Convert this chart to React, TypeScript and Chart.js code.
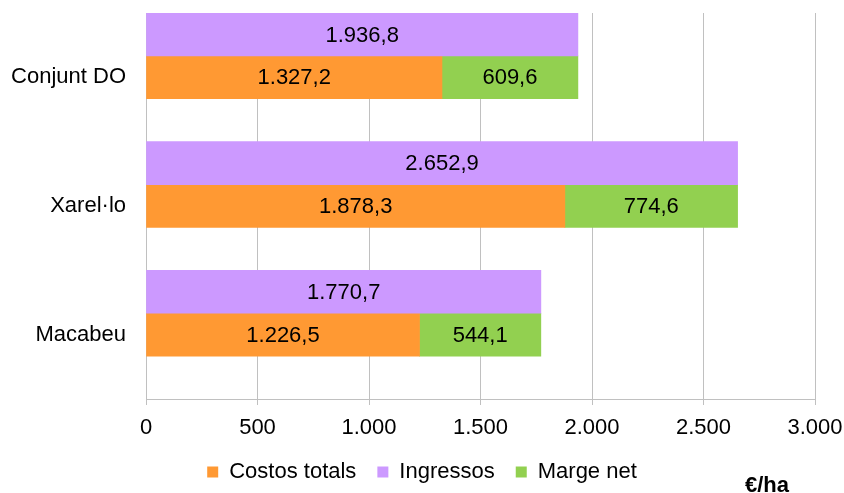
import React, { useEffect, useRef } from "react";
import { Chart, registerables } from "chart.js";

Chart.register(...registerables);

const categories = ["Conjunt DO", "Xarel·lo", "Macabeu"];
const costosTotals = [1327.2, 1878.3, 1226.5];
const ingressos = [1936.8, 2652.9, 1770.7];
const margeNet = [609.6, 774.6, 544.1];
const xTicksMax = 3000;
const xTickStep = 500;
const unitLabel = "€/ha";

const FONT = "'Liberation Sans', Arial, sans-serif";

function fmt(n: number, decimals: number): string {
  const fixed = Math.abs(n).toFixed(decimals);
  const [intPart, decPart] = fixed.split(".");
  const withDots = intPart.replace(/\B(?=(\d{3})+(?!\d))/g, ".");
  return (n < 0 ? "-" : "") + withDots + (decPart ? "," + decPart : "");
}

const labelsPlugin = {
  id: "barValueLabels",
  afterDatasetsDraw(chart: any) {
    const ctx = chart.ctx;
    ctx.save();
    ctx.font = `22px ${FONT}`;
    ctx.fillStyle = "#000";
    ctx.textAlign = "center";
    ctx.textBaseline = "middle";
    chart.data.datasets.forEach((ds: any, di: number) => {
      if (ds.isDummy) return;
      const meta = chart.getDatasetMeta(di);
      meta.data.forEach((el: any, i: number) => {
        const v = ds.data[i];
        if (v == null) return;
        const p = el.getProps(["x", "y", "base"], true);
        ctx.fillText(fmt(v, 1), (p.x + p.base) / 2, p.y + 1);
      });
    });
    ctx.restore();
  },
};

const unitPlugin = {
  id: "unitLabel",
  afterDraw(chart: any) {
    const ctx = chart.ctx;
    ctx.save();
    ctx.font = `bold 22px ${FONT}`;
    ctx.fillStyle = "#000";
    ctx.textAlign = "center";
    ctx.textBaseline = "alphabetic";
    ctx.fillText(unitLabel, 767, 492);
    ctx.restore();
  },
};

export default function App() {
  const ref = useRef<HTMLCanvasElement>(null);
  useEffect(() => {
    if (!ref.current) return;
    const grid = "#c0c0c0";
    const chart = new Chart(ref.current, {
      type: "bar",
      data: {
        labels: categories,
        datasets: [
          {
            label: "Costos totals",
            data: costosTotals,
            backgroundColor: "#FF9933",
            stack: "b",
            order: 1,
          },
          {
            label: "Ingressos",
            data: ingressos,
            backgroundColor: "#CC99FF",
            stack: "a",
            order: 0,
          },
          {
            label: "Marge net",
            data: margeNet,
            backgroundColor: "#92D050",
            stack: "b",
            order: 1,
          },
          {
            label: "",
            data: [0, 0, 0],
            backgroundColor: "rgba(0,0,0,0)",
            stack: "c",
            order: 2,
            isDummy: true,
          } as any,
        ],
      },
      options: {
        indexAxis: "y",
        animation: false,
        responsive: false,
        devicePixelRatio: 1,
        categoryPercentage: 1,
        barPercentage: 1,
        layout: { padding: { top: 13, left: 0, right: 0, bottom: 0 } },
        scales: {
          x: {
            min: 0,
            max: xTicksMax,
            stacked: true,
            ticks: {
              stepSize: xTickStep,
              color: "#000",
              font: { family: FONT, size: 22 },
              padding: 10,
              maxRotation: 0,
              callback: (v: any) => fmt(Number(v), 0),
            },
            grid: { color: grid, tickLength: 6, lineWidth: 1 },
            border: { color: grid },
            afterFit: (scale: any) => {
              scale.height = 41;
              scale.paddingLeft = 0;
              scale.paddingRight = 29;
            },
          },
          y: {
            stacked: true,
            ticks: {
              color: "#000",
              font: { family: FONT, size: 22 },
              padding: 20,
            },
            grid: { display: false, drawTicks: false },
            border: { display: false },
            afterFit: (scale: any) => {
              scale.width = 146;
              scale.paddingTop = 0;
              scale.paddingBottom = 0;
            },
          },
        },
        plugins: {
          legend: {
            position: "bottom",
            labels: {
              boxWidth: 11,
              boxHeight: 11,
              padding: 21,
              color: "#000",
              font: { family: FONT, size: 22 },
              filter: (item: any, data: any) => !data.datasets[item.datasetIndex].isDummy,
              sort: (a: any, b: any) => a.datasetIndex - b.datasetIndex,
            },
          },
          tooltip: { enabled: false },
        },
      } as any,
      plugins: [labelsPlugin, unitPlugin],
    });
    return () => chart.destroy();
  }, []);
  return (
    <div style={{ position: "absolute", left: 0, top: 0, width: 844, height: 493, background: "#fff" }}>
      <canvas ref={ref} width={844} height={493} style={{ display: "block" }} />
    </div>
  );
}
